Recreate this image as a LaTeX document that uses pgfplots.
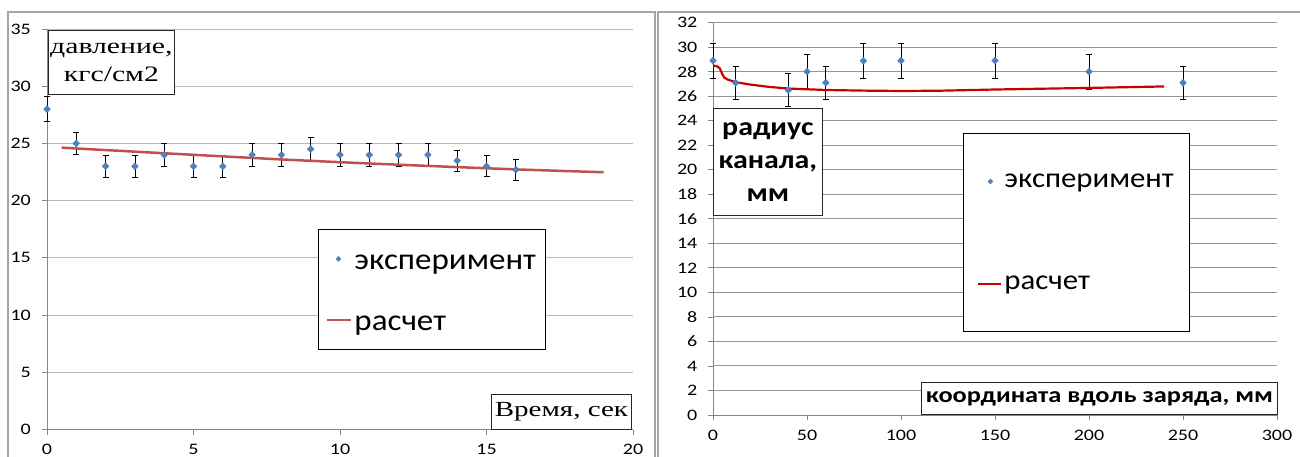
\documentclass[border=0pt]{standalone}
\usepackage{fontspec}
\usepackage{pgfplots}
\usepackage{pgfplotstable}
\pgfplotsset{compat=1.18}

\newfontfamily\tickfont{Carlito}[FakeStretch=1.25]
\newfontfamily\legfont{Carlito}[FakeStretch=1.1]
\newfontfamily\serfont{Liberation Serif}[FakeStretch=1.35]
\newfontfamily\boldfont{Carlito}[FakeStretch=1.15]
\newfontfamily\boldwide{Carlito}[FakeStretch=1.2]

\definecolor{expblue}{RGB}{79,129,189}
\definecolor{calcred}{RGB}{192,80,77}
\definecolor{calcredtwo}{RGB}{200,0,0}
\definecolor{gridgray}{RGB}{185,185,185}
\definecolor{gridgraytwo}{RGB}{150,150,150}
\definecolor{axgray}{RGB}{134,134,134}
\definecolor{framegray}{RGB}{165,165,165}

% pressure vs time: measurement with error
\pgfplotstableread{
x  y    e
0  28   1.1
1  25   1.0
2  23   0.95
3  23   0.95
4  24   1.0
5  23   0.95
6  23   0.95
7  24   1.0
8  24   1.0
9  24.5 1.0
10 24   1.0
11 24   1.0
12 24   1.0
13 24   1.0
14 23.5 0.93
15 23   0.92
16 22.7 0.9
}\pressexp

% pressure vs time: computed
\pgfplotstableread{
x   y
0.5 24.63
2   24.42
4   24.14
6   23.87
8   23.60
10  23.36
12  23.14
14  22.93
16  22.73
19  22.48
}\presscalc

% channel radius along the charge: measurement with error
\pgfplotstableread{
x   y    e
0   28.9 1.45
12  27.1 1.35
40  26.5 1.35
50  28.0 1.4
60  27.1 1.35
80  28.9 1.45
100 28.9 1.45
150 28.9 1.45
200 28.0 1.4
250 27.1 1.35
}\radexp

% channel radius along the charge: computed
\pgfplotstableread{
x   y
0   28.50
2   28.45
3.5 28.30
5   27.80
6   27.52
8   27.35
12  27.15
20  26.95
30  26.76
40  26.63
60  26.51
80  26.46
100 26.43
120 26.45
150 26.55
200 26.68
240 26.80
}\radcalc

\pgfplotsset{
  chartbase/.style={
    scale only axis,
    anchor=south west,
    axis x line=bottom, axis y line=left,
    axis line style={-, axgray, line width=1pt},
    tick align=outside,
    major tick length=5pt,
    tick style={axgray, line width=0.8pt},
    ymajorgrids,
    /pgf/number format/assume math mode=true,
    tick label style={font=\tickfont\fontsize{16}{19}\selectfont, black, inner sep=0pt},
    xticklabel style={anchor=north, yshift=-9.5pt},
    yticklabel style={anchor=east, xshift=-11pt},
    clip=false,
    legend cell align=left,
  },
  expstyle/.style={
    only marks, mark=diamond*, mark size=3.5pt,
    mark options={xscale=1.3, fill=expblue, draw=expblue},
    error bars/y dir=both, error bars/y explicit,
    error bars/error bar style={black, line width=0.8pt},
    error bars/error mark options={rotate=90, mark size=3pt, black, line width=0.8pt},
  },
}

\begin{document}
\begin{tikzpicture}
\path[use as bounding box] (0pt,0pt) rectangle (1300pt,-457pt);

% chart frames
\draw[framegray, line width=1.2pt] (8pt,-460pt) -- (8pt,-12pt) -- (655pt,-12pt) -- (655pt,-460pt);
\draw[framegray, line width=1.2pt] (658pt,-460pt) -- (658pt,-12pt) -- (1303pt,-12pt);

% left: pressure
\begin{axis}[chartbase,
  at={(47pt,-429.5pt)},
  width=586pt, height=400.5pt,
  xmin=0, xmax=20, ymin=0, ymax=35,
  xtick={0,5,...,20}, ytick={0,5,...,35},
  grid style={gridgray, line width=1pt},
  legend style={at={(0.4625,0.5006)}, anchor=north west,
    draw=black, line width=0.8pt, fill=white,
    font=\legfont\fontsize{30}{36}\selectfont,
    nodes={text height=22pt, text depth=0pt},
    inner xsep=8pt, inner ysep=16.5pt, row sep=35pt,
    /tikz/every odd column/.append style={column sep=0pt}},
]
\addplot[expstyle,
  legend image code/.code={
    \draw[draw=none] (0pt,0pt) -- (24pt,0pt);
    \draw[expblue, fill=expblue, mark=diamond*, mark size=2.3pt, mark options={xscale=1.3}] plot coordinates {(11pt,0pt)};}
  ] table[x=x, y=y, y error=e] {\pressexp};
\addlegendentry{эксперимент}
\addplot[calcred, line width=2.5pt, no marks,
  legend image code/.code={\draw[draw=calcred, line width=2pt] (0pt,0pt) -- (24pt,0pt);}
  ] table[x=x, y=y] {\presscalc};
\addlegendentry{расчет}
\end{axis}

% right: channel radius
\begin{axis}[chartbase,
  at={(713pt,-415pt)},
  width=564pt, height=392.3pt,
  xmin=0, xmax=300, ymin=0, ymax=32,
  xtick={0,50,...,300}, ytick={0,2,...,32},
  yticklabel style={xshift=0.5pt},
  xticklabel style={yshift=-0.5pt},
  grid style={gridgraytwo, line width=1pt},
  legend style={at={(0.4433,0.7188)}, anchor=north west,
    draw=black, line width=0.8pt, fill=white,
    font=\legfont\fontsize{28}{34}\selectfont,
    inner xsep=14pt, inner ysep=38.5pt, row sep=83pt,
    /tikz/every odd column/.append style={column sep=0pt}},
]
\addplot[expstyle,
  legend image code/.code={
    \draw[draw=none] (0pt,0pt) -- (23pt,0pt);
    \draw[expblue, fill=expblue, mark=diamond*, mark size=2.3pt, mark options={xscale=1.3}] plot coordinates {(12pt,0pt)};}
  ] table[x=x, y=y, y error=e] {\radexp};
\addlegendentry{эксперимент}
\addplot[calcredtwo, line width=2.2pt, no marks,
  legend image code/.code={\draw[draw=calcredtwo, line width=2pt] (0pt,0pt) -- (23pt,0pt);}
  ] table[x=x, y=y] {\radcalc};
\addlegendentry{расчет}
\end{axis}

% axis captions
\node[draw=black!85, line width=0.8pt, fill=white, inner sep=0pt,
  minimum width=126pt, minimum height=64pt, align=center, anchor=north west,
  font=\serfont\fontsize{22}{28}\selectfont] at (48pt,-30pt) {давление,\\кгс/см2};
\node[draw=black!85, line width=0.8pt, fill=white, inner sep=0pt,
  minimum width=140pt, minimum height=35pt, align=center, anchor=north west,
  font=\serfont\fontsize{21.5}{26}\selectfont] at (491pt,-394pt) {Время, сек};
\node[draw=black!85, line width=0.8pt, fill=white, inner sep=0pt,
  minimum width=109pt, minimum height=107pt, align=center, anchor=north west,
  font=\boldfont\bfseries\fontsize{26}{33}\selectfont] at (713pt,-108pt) {радиус\\канала,\\мм};
\node[draw=black!85, line width=0.8pt, fill=white, inner sep=0pt,
  minimum width=356pt, minimum height=32pt, align=center, anchor=north west,
  font=\boldwide\bfseries\fontsize{22}{26}\selectfont] at (921pt,-382pt) {координата вдоль заряда, мм};
\end{tikzpicture}
\end{document}
